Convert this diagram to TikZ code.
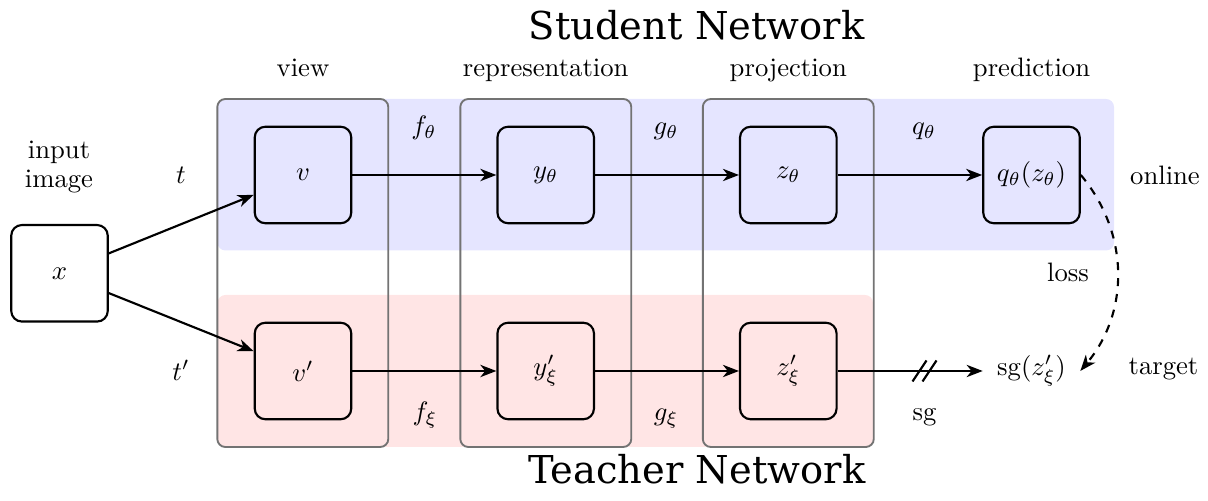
\documentclass[tikz,border=0pt]{standalone}
\usepackage{fontspec}
\newfontfamily\titlefont{DejaVu Serif}
\usetikzlibrary{arrows.meta}
\begin{document}
\begin{tikzpicture}[x=0.375pt,y=-0.375pt,
  box/.style={draw,thick,rounded corners=4pt,minimum width=36.2pt,minimum height=36.2pt,inner sep=0pt},
  ghost/.style={minimum width=36.2pt,minimum height=36.2pt,inner sep=0pt},
  colbox/.style={draw=black!55,line width=0.7pt,rounded corners=3pt,minimum width=64.1pt,minimum height=130.5pt,inner sep=0pt},
  arr/.style={-{Stealth[length=6pt,width=4.6pt,inset=1.8pt]},thick},
  lbl/.style={anchor=base,inner sep=0pt},
  title/.style={anchor=base,inner sep=0pt,font=\titlefont\fontsize{14.4}{17}\selectfont}]
\useasboundingbox (0,0) rectangle (1208,501);
% bands
\fill[blue!10,rounded corners=3pt] (217.5,99) rectangle (1114,250.5);
\fill[red!10,rounded corners=3pt] (217.5,295) rectangle (873,447);
% column boxes
\node[colbox] (c1) at (302.8,273) {};
\node[colbox] (c2) at (545.8,273) {};
\node[colbox] (c3) at (788.3,273) {};
% main nodes
\node[box] (x) at (59.5,273.3) {$x$};
\node[box] (v) at (303,175) {$v$};
\node[box] (y) at (545.7,175) {$y_\theta$};
\node[box] (z) at (788.3,175) {$z_\theta$};
\node[box] (q) at (1031.5,175) {$q_\theta(z_\theta)$};
\node[box] (vp) at (303,371) {$v'$};
\node[box] (yp) at (545.7,371) {$y'_\xi$};
\node[box] (zp) at (788.3,371) {$z'_\xi$};
\node[ghost] (sgn) at (1031.5,371) {$\mathrm{sg}(z'_\xi)$};
% labels
\node[title] (st) at (696.7,40) {Student Network};
\node[title] (tn) at (696.7,484) {Teacher Network};
\node[lbl] (lv) at (303,77) {view};
\node[lbl] (lr) at (545.7,77) {representation};
\node[lbl] (lp) at (788.3,77) {projection};
\node[lbl] (lq) at (1031.5,77) {prediction};
\node[align=center,inner sep=0pt,font=\fontsize{10}{10.6}\selectfont] (in) at (59,167) {input\\image};
\node[inner sep=0pt] (t) at (181,175) {$t$};
\node[inner sep=0pt] (tp) at (181,370) {$t'$};
\node[lbl] (on) at (1165,184.5) {online};
\node[lbl] (tg) at (1163.5,375) {target};
\node[lbl] (ls) at (1068,281.7) {loss};
\node[lbl] (ft) at (424,135) {$f_\theta$};
\node[lbl] (gt) at (666,135) {$g_\theta$};
\node[lbl] (qt) at (924,135) {$q_\theta$};
\node[lbl] (fx) at (425,421) {$f_\xi$};
\node[lbl] (gx) at (666,421) {$g_\xi$};
\node[lbl] (sgl) at (924.5,421) {sg};
% connectors
\draw[arr] (x) -- (v);
\draw[arr] (x) -- (vp);
\draw[arr] (v) -- (y);
\draw[arr] (y) -- (z);
\draw[arr] (z) -- (q);
\draw[arr] (vp) -- (yp);
\draw[arr] (yp) -- (zp);
\draw[arr] (zp) -- (sgn);
\coordinate (cut) at (924.5,371);
\draw[thick] (cut) ++(-12,10.5) -- ++(14,-21) (cut) ++(-2,10.5) -- ++(14,-21);
\draw[arr,dashed] (q.east) .. controls +(49,58.5) and +(49,-58.5) .. (sgn.east);
\end{tikzpicture}
\end{document}
